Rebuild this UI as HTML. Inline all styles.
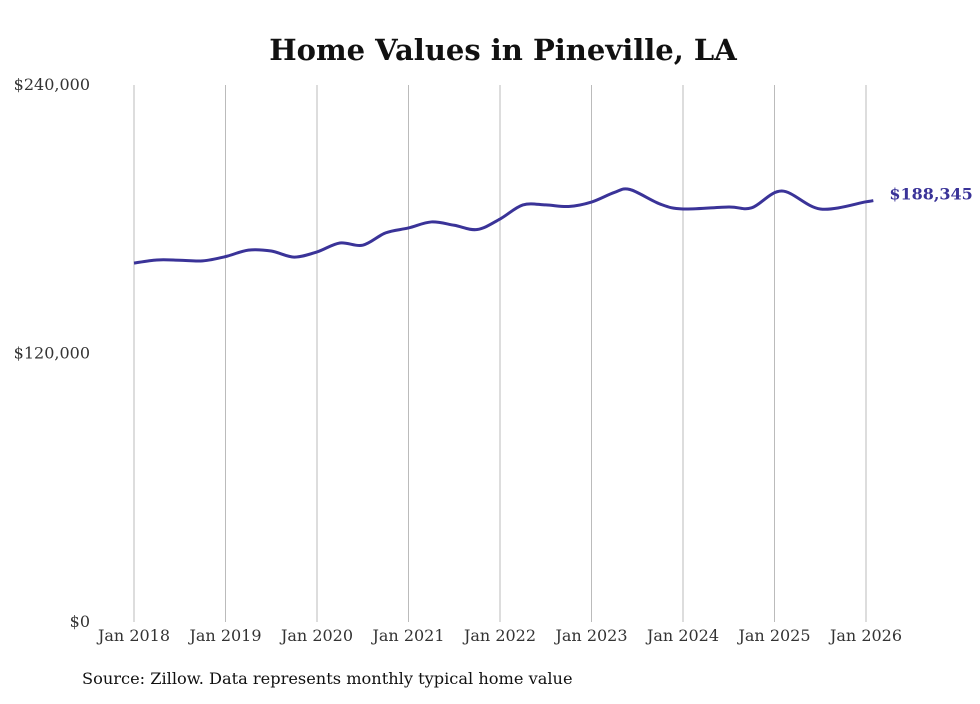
<!DOCTYPE html>
<html><head><meta charset="utf-8"><style>
body{margin:0;background:#fff;width:980px;height:699px;overflow:hidden}
svg text{font-family:"DejaVu Serif","Liberation Serif",serif}
</style></head><body>
<svg id="chart" width="980" height="699">
<text x="503" y="60" text-anchor="middle" font-size="29" font-weight="bold" fill="#111">Home Values in Pineville, LA</text>
<g id="grid"></g><g id="yaxis"></g><g id="xaxis"></g>
<path id="line" fill="none" stroke="#3a3398" stroke-width="3"/>
<text id="endlabel" font-size="16" font-weight="bold" fill="#3a3398"></text>
<text x="82" y="684" font-size="16.2" fill="#111">Source: Zillow. Data represents monthly typical home value</text>
</svg>
<script>
const dates=[2018.0,2018.25,2018.5,2018.75,2019.0,2019.25,2019.5,2019.75,2020.0,2020.25,2020.5,2020.75,2021.0,2021.25,2021.5,2021.75,2022.0,2022.25,2022.5,2022.75,2023.0,2023.25,2023.42,2023.75,2024.0,2024.5,2024.75,2025.08,2025.5,2026.0,2026.08];
const values=[160400,161800,161700,161400,163300,166200,165800,163100,165400,169400,168400,173900,176100,178800,177300,175400,180100,186400,186400,185700,187700,192000,193300,186800,184600,185500,185100,192600,184600,187800,188345];
const yTicks=[0,120000,240000];
const yTickLabels=["$0","$120,000","$240,000"];
const xTicks=[2018,2019,2020,2021,2022,2023,2024,2025,2026];
const xTickLabels=xTicks.map(y=>"Jan "+y);
const lastLabel="$188,345";
const X=d=>134+(d-2018)*91.5;
const Y=v=>622-v/240000*537;
const NS="http://www.w3.org/2000/svg";
function mk(t,a,p){const e=document.createElementNS(NS,t);for(const k in a)e.setAttribute(k,a[k]);p.appendChild(e);return e;}
const grid=document.getElementById('grid'),xa=document.getElementById('xaxis'),ya=document.getElementById('yaxis');
xTicks.forEach((t,i)=>{
 const l=mk('line',{x1:X(t),x2:X(t),y1:85,y2:622,stroke:'#bbb','stroke-width':1},grid);
 
 
 const tx=mk('text',{x:X(t),y:641,'text-anchor':'middle','font-size':16,fill:'#333'},xa);
 tx.textContent=xTickLabels[i];
 
 
});
yTicks.forEach((t,i)=>{
 const tx=mk('text',{x:90,y:Y(t)+5,'text-anchor':'end','font-size':16,fill:'#333'},ya);
 tx.textContent=yTickLabels[i];
 
 
});
const pts=dates.map((d,i)=>[X(d),Y(values[i])]);
let p='M'+pts[0][0]+','+pts[0][1];
for(let i=0;i<pts.length-1;i++){
 const p0=pts[i-1]||pts[i],p1=pts[i],p2=pts[i+1],p3=pts[i+2]||p2;
 const c1=[p1[0]+(p2[0]-p0[0])/6,p1[1]+(p2[1]-p0[1])/6],c2=[p2[0]-(p3[0]-p1[0])/6,p2[1]-(p3[1]-p1[1])/6];
 p+=`C${c1[0]},${c1[1]} ${c2[0]},${c2[1]} ${p2[0]},${p2[1]}`;
}
document.getElementById('line').setAttribute('d',p);
const el=document.getElementById('endlabel');
const last=pts[pts.length-1];
el.setAttribute('x',last[0]+16);el.setAttribute('y',last[1]-1);el.textContent=lastLabel;
</script>
</body></html>
